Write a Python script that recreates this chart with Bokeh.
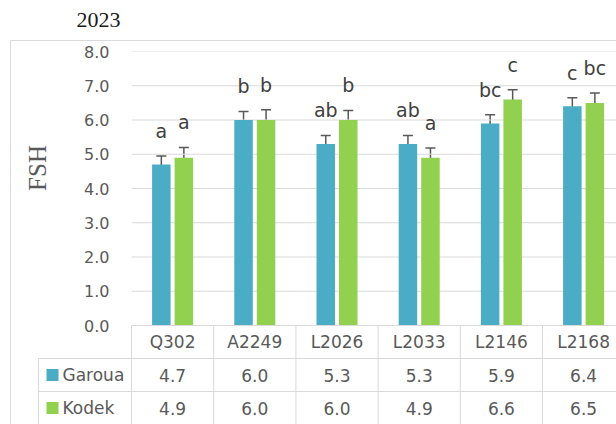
import math
from bokeh.plotting import figure
from bokeh.models import (Range1d, LinearAxis, FixedTicker, NumeralTickFormatter,
                          ColumnDataSource, Whisker, TeeHead)
from bokeh.core.properties import value
from bokeh.embed import file_html
from bokeh.resources import INLINE

# ---- data -------------------------------------------------------------
categories = ["Q302", "A2249", "L2026", "L2033", "L2146", "L2168"]
garoua = [4.7, 6.0, 5.3, 5.3, 5.9, 6.4]
kodek = [4.9, 6.0, 6.0, 4.9, 6.6, 6.5]
garoua_err = [0.25, 0.25, 0.25, 0.25, 0.25, 0.25]
kodek_err = [0.30, 0.30, 0.28, 0.28, 0.28, 0.29]
garoua_letters = ["a", "b", "ab", "ab", "bc", "c"]
kodek_letters = ["a", "b", "b", "a", "c", "bc"]
series_names = ["Garoua", "Kodek"]
y_ticks = [0, 1, 2, 3, 4, 5, 6, 7, 8]
title_text = "2023"
y_label = "FSH"

# ---- style ------------------------------------------------------------
BLUE = "#4BACC6"
GREEN = "#92D050"
GRID = "#d9d9d9"
TXT = "#595959"
SANS = "DejaVu Sans"
SERIF = "Liberation Serif"

W, H = 616, 424
LEFT, TOP, BOTTOM = 131, 51, 99          # frame margins in px
CAT_PX = 82.2                            # px per category
ROW_PX = 33.0                            # px per table row
frame_w = W - LEFT
frame_h = H - TOP - BOTTOM
x_end = frame_w / CAT_PX
y_max = y_ticks[-1]
Y_PX = frame_h / y_max                   # px per value unit
OFF = 0.137                              # bar offset from category centre
BAR_W = 0.225


def cx(px):
    """canvas pixel column -> x data units (for decorations outside the frame)"""
    return (px - LEFT) / CAT_PX


def cy(py):
    """canvas pixel row -> y data units"""
    return (H - BOTTOM - py) / Y_PX


p = figure(width=W, height=H, output_backend="svg", toolbar_location=None,
           x_range=Range1d(0, x_end), y_range=Range1d(0, y_max),
           min_border_left=LEFT, min_border_right=0, min_border_top=TOP,
           min_border_bottom=BOTTOM, x_axis_type=None, y_axis_type=None)
p.outline_line_color = None
p.background_fill_color = "white"
p.border_fill_color = "white"

# table rows: 0 at the frame bottom, one unit per row, negative downward
p.extra_y_ranges = {"table": Range1d(0, frame_h / ROW_PX)}

# y axis
yaxis = LinearAxis(ticker=FixedTicker(ticks=y_ticks),
                   formatter=NumeralTickFormatter(format="0.0"))
yaxis.axis_line_color = None
yaxis.major_tick_line_color = None
yaxis.minor_tick_line_color = None
yaxis.major_label_text_font = SANS
yaxis.major_label_text_font_size = "16px"
yaxis.major_label_text_color = TXT
yaxis.major_label_standoff = 16
p.add_layout(yaxis, "left")

# category axis = header row of the table
xaxis = LinearAxis(ticker=FixedTicker(ticks=[i + 0.5 for i in range(len(categories))]),
                   major_label_overrides={i + 0.5: c for i, c in enumerate(categories)})
xaxis.axis_line_color = None
xaxis.major_tick_line_color = None
xaxis.minor_tick_line_color = None
xaxis.major_label_text_font = SANS
xaxis.major_label_text_font_size = "17px"
xaxis.major_label_text_color = TXT
xaxis.major_label_standoff = 0
p.add_layout(xaxis, "below")

# horizontal gridlines
p.segment(x0=[0] * len(y_ticks), x1=[x_end] * len(y_ticks), y0=y_ticks, y1=y_ticks,
          line_color=GRID, line_width=1)

# bars
idx = list(range(len(categories)))
src = ColumnDataSource(dict(
    xg=[i + 0.5 - OFF for i in idx], xk=[i + 0.5 + OFF for i in idx],
    g=garoua, k=kodek,
    g_lo=[v - e for v, e in zip(garoua, garoua_err)],
    g_hi=[v + e for v, e in zip(garoua, garoua_err)],
    k_lo=[v - e for v, e in zip(kodek, kodek_err)],
    k_hi=[v + e for v, e in zip(kodek, kodek_err)],
    gl=garoua_letters, kl=kodek_letters,
))
p.vbar(x="xg", top="g", bottom=0, width=BAR_W, source=src, fill_color=BLUE, line_color=None)
p.vbar(x="xk", top="k", bottom=0, width=BAR_W, source=src, fill_color=GREEN, line_color=None)

for base, lo, hi in (("xg", "g_lo", "g_hi"), ("xk", "k_lo", "k_hi")):
    w = Whisker(base=base, lower=lo, upper=hi, source=src, dimension="height",
                line_color="#595959", line_width=1.5,
                upper_head=TeeHead(size=10, line_color="#595959", line_width=1.5),
                lower_head=TeeHead(size=10, line_color="#595959", line_width=1.5))
    p.add_layout(w)

# significance letters
for xcol, ycol, tcol in (("xg", "g_hi", "gl"), ("xk", "k_hi", "kl")):
    p.text(x=xcol, y=ycol, text=tcol, source=src, y_offset=-14,
           text_align="center", text_baseline="bottom",
           text_font=value(SANS), text_font_size="19px", text_color="#404040")

# ---- data table below the plot ----------------------------------------
key_left = cx(38)
key_mid = cx(52)
ncat = len(categories)
# horizontal rules
p.segment(x0=[0, key_left, key_left], x1=[x_end] * 3, y0=[0, -1, -2], y1=[0, -1, -2],
          y_range_name="table", line_color=GRID, line_width=1, level="overlay")
# vertical rules
p.segment(x0=list(range(ncat + 1)), x1=list(range(ncat + 1)),
          y0=[0] * (ncat + 1), y1=[-3.5] * (ncat + 1),
          y_range_name="table", line_color=GRID, line_width=1, level="overlay")
p.segment(x0=[key_left], x1=[key_left], y0=[-1], y1=[-3.5],
          y_range_name="table", line_color=GRID, line_width=1, level="overlay")

rows = [-1.5, -2.5]
for row, vals in ((rows[0], garoua), (rows[1], kodek)):
    p.text(x=[i + 0.5 for i in idx], y=[row] * ncat, text=[f"{v:.1f}" for v in vals],
           y_range_name="table", text_align="center", text_baseline="middle",
           text_font=value(SANS), text_font_size="17px", text_color=TXT, level="overlay")
for row, name, color in zip(rows, series_names, (BLUE, GREEN)):
    p.rect(x=[key_mid], y=[row], width=12, height=12, width_units="screen",
           height_units="screen", fill_color=color, line_color=None,
           y_range_name="table", level="overlay")
    p.text(x=[cx(62)], y=[row], text=[name], y_range_name="table",
           text_align="left", text_baseline="middle",
           text_font=value(SANS), text_font_size="17px", text_color=TXT, level="overlay")

# ---- chart border, title and axis title -------------------------------
p.segment(x0=[cx(10), cx(10)], y0=[cy(40), cy(40)], x1=[cx(10), cx(W + 10)],
          y1=[cy(H + 10), cy(40)], line_color=GRID, line_width=1, level="overlay")
p.text(x=[cx(76)], y=[cy(19.5)], text=[title_text], text_align="left",
       text_baseline="middle", text_font=value(SERIF), text_font_size="22px",
       text_color="#1a1a1a", level="overlay")
p.text(x=[cx(37)], y=[cy(167.5)], text=[y_label], angle=math.pi / 2,
       text_align="center", text_baseline="middle", text_font=value(SERIF),
       text_font_size="25px", text_color=TXT, level="overlay")

open("out.html", "w").write(file_html(p, INLINE))
